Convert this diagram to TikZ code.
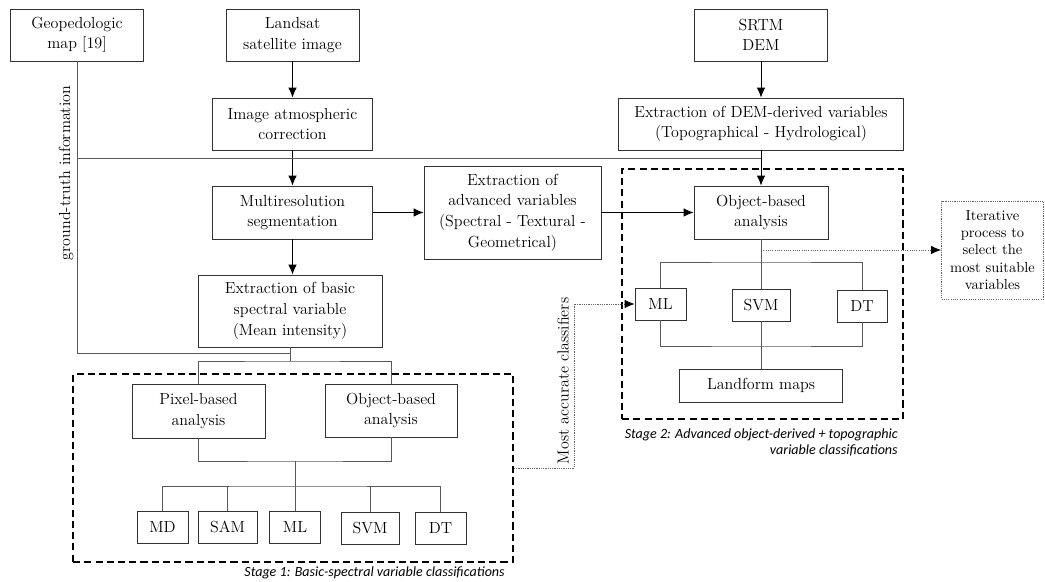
\documentclass[tikz,border=0pt]{standalone}
\usepackage{fontspec}
\usepackage{tikz}
\usetikzlibrary{arrows.meta}
\newfontfamily\stagefont{Carlito}
\newcommand{\pxu}{0.025cm}

\tikzset{
  box/.style={draw=black!80, line width=0.6pt, align=center, inner sep=1pt,
    font=\fontsize{11.4}{14.7}\selectfont},
  stagebox/.style={draw, line width=1.4pt, dash pattern=on 5pt off 3pt},
  arr/.style={-{Latex[length=7pt,width=6pt,color=black]}},
  link/.style={draw=black!65, line width=0.6pt},
  dotlink/.style={draw=black!60, line width=0.6pt, dash pattern=on 0.8pt off 0.8pt},
  stagelabel/.style={anchor=north east, align=right, inner sep=0pt,
    font=\stagefont\itshape\fontsize{10}{11.4}\selectfont},
}

\begin{document}
\begin{tikzpicture}[x=\pxu, y=-\pxu]
\useasboundingbox (0,0) rectangle (1045,582);

% stage frames
\node[stagebox, minimum width=440*\pxu, minimum height=188*\pxu] (stage1) at (293,468) {};
\node[stagebox, minimum width=281*\pxu, minimum height=250*\pxu] (stage2) at (762.5,294) {};

% inputs
\node[box, minimum width=133*\pxu, minimum height=52*\pxu] (geo) at (77,35) {Geopedologic\\map [19]};
\node[box, minimum width=133*\pxu, minimum height=52*\pxu] (landsat) at (292.5,35) {Landsat\\satellite image};
\node[box, minimum width=133*\pxu, minimum height=52*\pxu] (srtm) at (761,35) {SRTM\\DEM};

% processing
\node[box, minimum width=160*\pxu, minimum height=52*\pxu] (atmos) at (292.5,124) {Image atmospheric\\correction};
\node[box, minimum width=285*\pxu, minimum height=52*\pxu] (demvar) at (761,124) {Extraction of DEM-derived variables\\(Topographical - Hydrological)};
\node[box, minimum width=160*\pxu, minimum height=53*\pxu] (multi) at (292.5,212.5) {Multiresolution\\segmentation};
\node[box, minimum width=177*\pxu, minimum height=93*\pxu] (advvar) at (512.5,212.5) {Extraction of\\advanced variables\\(Spectral - Textural -\\Geometrical)};
\node[box, minimum width=134*\pxu, minimum height=53*\pxu] (obj2) at (761,212.5) {Object-based\\analysis};
\node[box, minimum width=184*\pxu, minimum height=72*\pxu] (basic) at (290,311) {Extraction of basic\\spectral variable\\(Mean intensity)};

% stage 1
\node[box, minimum width=133*\pxu, minimum height=54*\pxu] (pixel) at (198.5,411) {Pixel-based\\analysis};
\node[box, minimum width=132*\pxu, minimum height=53*\pxu] (obj1) at (391,410.5) {Object-based\\analysis};
\node[box, minimum width=51*\pxu, minimum height=32*\pxu] (md) at (162.5,527) {MD};
\node[box, minimum width=59*\pxu, minimum height=32*\pxu] (sam) at (227.5,527) {SAM};
\node[box, minimum width=51*\pxu, minimum height=32*\pxu] (ml1) at (295,527) {ML};
\node[box, minimum width=58*\pxu, minimum height=32*\pxu] (svm1) at (370,528) {SVM};
\node[box, minimum width=51*\pxu, minimum height=32*\pxu] (dt1) at (440.5,528) {DT};

% stage 2
\node[box, minimum width=51*\pxu, minimum height=32*\pxu] (ml2) at (660.5,304) {ML};
\node[box, minimum width=58*\pxu, minimum height=32*\pxu] (svm2) at (761,305) {SVM};
\node[box, minimum width=50*\pxu, minimum height=32*\pxu] (dt2) at (862,306) {DT};
\node[box, minimum width=163*\pxu, minimum height=33*\pxu] (land) at (761,385.5) {Landform maps};
\node[box, dotlink, minimum width=102*\pxu, minimum height=98*\pxu, font=\fontsize{10.3}{12.2}\selectfont] (iter) at (992.5,250) {Iterative\\process to\\select the\\most suitable\\variables};

% side labels
\node[rotate=90, font=\fontsize{11.4}{14.7}\selectfont] (gtlab) at (66,173) {ground-truth information};
\node[rotate=90, font=\fontsize{11.4}{14.7}\selectfont] (acclab) at (563,381) {Most accurate classifiers};
\node[stagelabel] (lab1) at (505,566) {Stage 1: Basic-spectral variable classifications};
\node[stagelabel] (lab2) at (898,428) {Stage 2: Advanced object-derived + topographic\\variable classifications};

% arrows
\draw[arr, line width=0.6pt] (landsat) -- (atmos);
\draw[arr, line width=0.6pt] (atmos) -- (multi);
\draw[arr, line width=0.6pt] (multi) -- (multi.south |- basic.north);
\draw[arr, line width=0.6pt] (multi) -- (advvar);
\draw[arr, line width=0.6pt] (advvar) -- (obj2);
\draw[arr, line width=0.6pt] (srtm) -- (demvar);
\draw[arr, line width=0.6pt] (demvar) -- (obj2);

% ground truth
\coordinate (gt) at (77,158);
\coordinate (gtend) at (290,353);
\draw[link] (geo.south) |- (gtend);
\draw[link] (gt) -- (demvar.south |- gt);

% stage 1 tree
\draw[link] (basic.south) -- (290,361) coordinate (split1);
\draw[link] (pixel.north) |- (split1) -| (obj1.north);
\coordinate (split2) at (295,461);
\draw[link] (pixel.south) |- (split2) -| (obj1.south);
\draw[link] (split2) -- (295,486) coordinate (bus1);
\draw[link] (md.north) |- (bus1) -| (dt1.north);
\foreach \n in {sam,ml1,svm1}
  \draw[link] (\n.north) -- (\n.north |- bus1);

% stage 2 tree
\coordinate (bus2) at (761,262);
\draw[link] (obj2.south) -- (bus2);
\draw[link] (ml2.north) |- (bus2) -| (dt2.north);
\draw[link] (bus2) -- (svm2.north);
\coordinate (bus2b) at (761,346);
\draw[link] (ml2.south) |- (bus2b) -| (dt2.south);
\draw[link] (svm2.south) -- (land.north);

% dotted links
\coordinate (sel) at (761,250);
\draw[dotlink, arr] (sel) -- (iter.west);
\coordinate (acc) at (574,304);
\draw[dotlink, arr] (stage1.east) -| (acc) -- (ml2.west);
\end{tikzpicture}
\end{document}
